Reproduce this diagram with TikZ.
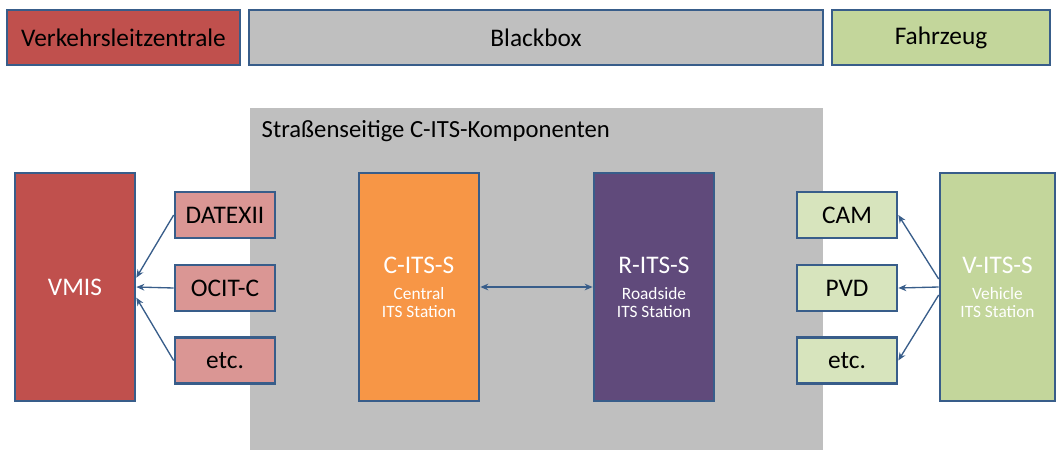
\documentclass[tikz,border=0pt]{standalone}
\usepackage{fontspec}
\setmainfont{Carlito}
\usetikzlibrary{arrows.meta}

\definecolor{rimblue}{HTML}{385D8A}
\definecolor{vlzred}{HTML}{C0504D}
\definecolor{vlzlight}{HTML}{DA9694}
\definecolor{boxgray}{HTML}{BFBFBF}
\definecolor{centorange}{HTML}{F79646}
\definecolor{roadpurple}{HTML}{604A7B}
\definecolor{carggreen}{HTML}{C3D69B}
\definecolor{carglight}{HTML}{D7E4BD}

\tikzset{
  box/.style={draw=rimblue, line width=2pt, inner sep=0pt, font=\fontsize{19}{22}\selectfont},
  headbox/.style={box, minimum height=41.25pt},
  bigbox/.style={box, minimum width=90pt, minimum height=171pt, text=white, align=center,
    font=\fontsize{19}{13.5}\selectfont},
  msgbox/.style={box, minimum width=75pt, minimum height=34.5pt},
  link/.style={draw=rimblue, line width=1pt, -{Stealth[length=6pt,width=5pt]}},
}
\newcommand{\subsize}{\fontsize{13}{13.5}\selectfont}

\begin{document}
\begin{tikzpicture}[x=0.75pt,y=-0.75pt]
\useasboundingbox (0,0) rectangle (1057,450);

% header
\node[headbox, fill=vlzred, minimum width=174.75pt] (vlz) at (123.5,37.5) {Verkehrsleitzentrale};
\node[headbox, fill=boxgray, minimum width=430.5pt] (bbox) at (536,37.5) {Blackbox};
\node[headbox, fill=carggreen, minimum width=163.5pt] (fzg) at (941,37.5) {Fahrzeug};

% roadside area
\fill[boxgray] (250,108) rectangle (823,450);
\node[anchor=west, font=\fontsize{18.5}{21}\selectfont] (road) at (257,131) {Straßenseitige C-ITS-Komponenten};

% stations
\node[bigbox, fill=vlzred, font=\fontsize{19}{22}\selectfont] (vmis) at (75,287) {VMIS};
\node[bigbox, fill=centorange] (cits) at (419,287) {C-ITS-S\\[6pt]\subsize Central\\\subsize ITS Station};
\node[bigbox, fill=roadpurple] (rits) at (654,287) {R-ITS-S\\[6pt]\subsize Roadside\\\subsize ITS Station};
\node[bigbox, fill=carggreen, minimum width=86.25pt] (vits) at (997.5,287) {V-ITS-S\\[6pt]\subsize Vehicle\\\subsize ITS Station};

% messages
\node[msgbox, fill=vlzlight] (datex) at (225,215) {DATEXII};
\node[msgbox, fill=vlzlight] (ocit) at (225,288) {OCIT-C};
\node[msgbox, fill=vlzlight] (etcl) at (225,360.5) {etc.};
\node[msgbox, fill=carglight] (cam) at (847,215) {CAM};
\node[msgbox, fill=carglight] (pvd) at (847,288) {PVD};
\node[msgbox, fill=carglight] (etcr) at (847,360.5) {etc.};

\draw[link] (datex.west) -- ([yshift=7pt]vmis.east);
\draw[link] (ocit.west) -- (vmis.east);
\draw[link] (etcl.west) -- ([yshift=-8pt]vmis.east);
\draw[link, {Stealth[length=6pt,width=5pt]}-{Stealth[length=6pt,width=5pt]}] (cits.east) -- (rits.west);
\draw[link] ([yshift=6pt]vits.west) -- (cam.east);
\draw[link] (vits.west) -- (pvd.east);
\draw[link] ([yshift=-6pt]vits.west) -- (etcr.east);
\end{tikzpicture}
\end{document}
